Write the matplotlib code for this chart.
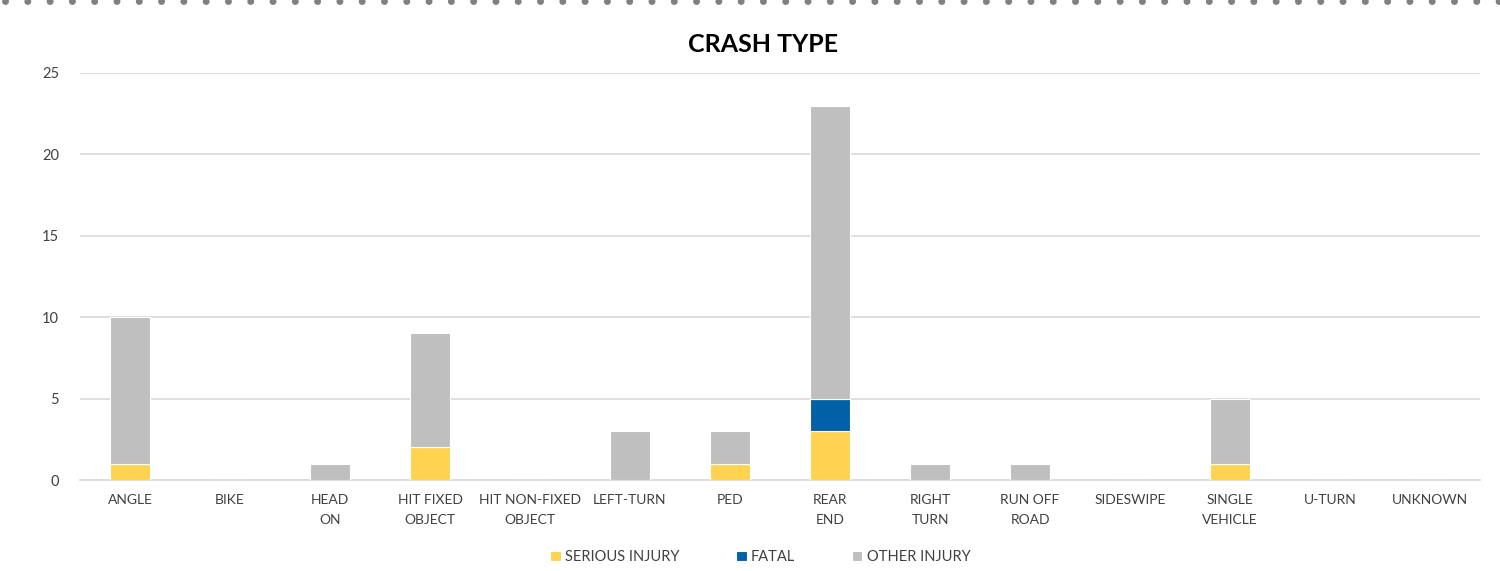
import numpy as np
import matplotlib.pyplot as plt
from matplotlib.lines import Line2D

plt.rcParams['font.family'] = ['Lato', 'DejaVu Sans']

categories = ['ANGLE', 'BIKE', 'HEAD\nON', 'HIT FIXED\nOBJECT', 'HIT NON-FIXED\nOBJECT',
              'LEFT-TURN', 'PED', 'REAR\nEND', 'RIGHT\nTURN', 'RUN OFF\nROAD',
              'SIDESWIPE', 'SINGLE\nVEHICLE', 'U-TURN', 'UNKNOWN']
serious = [1, 0, 0, 2, 0, 0, 1, 3, 0, 0, 0, 1, 0, 0]
fatal = [0, 0, 0, 0, 0, 0, 0, 2, 0, 0, 0, 0, 0, 0]
other = [9, 0, 1, 7, 0, 3, 2, 18, 1, 1, 0, 4, 0, 0]
y_ticks = [0, 5, 10, 15, 20, 25]

COLORS = {'serious': '#FFD34F', 'fatal': '#0060A8', 'other': '#BFBFBF'}

fig = plt.figure(figsize=(15, 5.71), dpi=100)
ax = fig.add_axes([80 / 1500, 1 - 480 / 571, 1400 / 1500, 407 / 571])

x = np.arange(len(categories))
s = np.array(serious)
f = np.array(fatal)
o = np.array(other)

ax.bar(x, s, 0.4, color=COLORS['serious'], edgecolor='white', linewidth=0.8,
       label='SERIOUS INJURY', zorder=3)
ax.bar(x, f, 0.4, bottom=s, color=COLORS['fatal'], edgecolor='white', linewidth=0.8,
       label='FATAL', zorder=3)
ax.bar(x, o, 0.4, bottom=s + f, color=COLORS['other'], edgecolor='white', linewidth=0.8,
       label='OTHER INJURY', zorder=3)

ax.set_xlim(-0.5, len(categories) - 0.5)
ax.set_ylim(0, 25)
ax.set_yticks(y_ticks)
ax.set_xticks(x)
ax.set_xticklabels(categories, fontsize=10, color='#404040', linespacing=1.85)
ax.tick_params(axis='y', labelsize=10.5, labelcolor='#404040', length=0, pad=15)
ax.tick_params(axis='x', length=0, pad=10)
ax.grid(axis='y', color='#D9D9D9', linewidth=1.2, zorder=0)
for side in ['top', 'right', 'left']:
    ax.spines[side].set_visible(False)
ax.spines['bottom'].set_color('#D9D9D9')
ax.spines['bottom'].set_linewidth(1.2)

fig.text(763 / 1500, 1 - 44 / 571, 'CRASH TYPE', ha='center', va='center',
         fontsize=18, fontweight='bold', color='black')

ax.legend(loc='center', bbox_to_anchor=(0.486, -0.19), ncol=3, frameon=False,
          fontsize=10.5, handlelength=0.7, handleheight=0.7, handletextpad=0.3,
          columnspacing=3.9, labelcolor='#404040')

# dotted border line at top
fig.add_artist(Line2D([0.003, 1.0], [0.999, 0.999], transform=fig.transFigure,
                      color='#808080', linewidth=5, linestyle=(0, (0.01, 3.2)),
                      solid_capstyle='round', dash_capstyle='round'))

fig.savefig('out.png', dpi=100)
